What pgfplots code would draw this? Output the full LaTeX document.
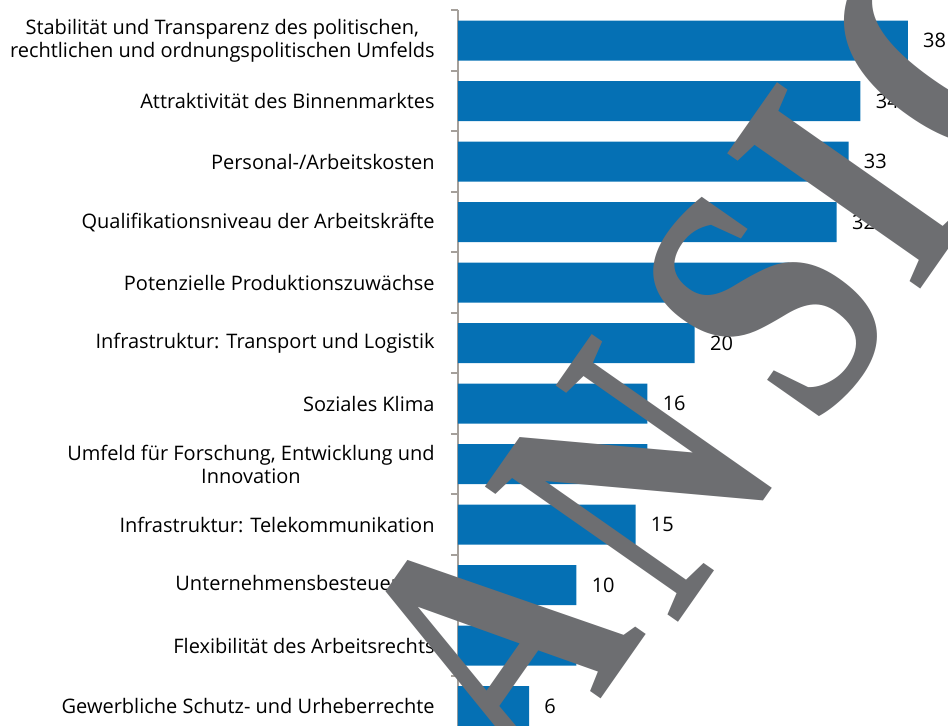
\documentclass[border=0pt]{standalone}
\usepackage{fontspec}
\setmainfont{Open Sans}
\newfontfamily\wmfont{Liberation Serif Bold}
\usepackage{pgfplots}
\pgfplotsset{compat=1.18}
\definecolor{barblue}{RGB}{5,112,180}
\definecolor{axgray}{RGB}{165,160,155}
\definecolor{wmgray}{RGB}{109,110,113}
\begin{document}
\begin{tikzpicture}
\begin{axis}[
  name=ax,
  scale only axis,
  width=245pt, height=357.75pt,
  xbar, bar width=20pt, bar shift=0pt,
  xmin=0, xmax=41.4,
  y dir=reverse,
  ymin=-0.5, ymax=11.33,
  axis x line=none,
  axis y line*=left,
  axis line style={axgray, line width=1pt},
  ytick={0,...,11},
  minor ytick={-0.5,0.5,...,10.5},
  major tick length=0pt,
  minor tick length=3.5pt,
  tick align=outside,
  minor tick style={axgray, line width=1pt},
  yticklabels={
    {Stabilität und Transparenz des politischen,\\rechtlichen und ordnungspolitischen Umfelds},
    {Attraktivität des Binnenmarktes},
    {Personal-/Arbeitskosten},
    {Qualifikationsniveau der Arbeitskräfte},
    {Potenzielle Produktionszuwächse},
    {Infrastruktur: Transport und Logistik},
    {Soziales Klima},
    {Umfeld für Forschung, Entwicklung und\\Innovation},
    {Infrastruktur: Telekommunikation},
    {Unternehmensbesteuerung},
    {Flexibilität des Arbeitsrechts},
    {Gewerbliche Schutz- und Urheberrechte}},
  yticklabel style={font=\fontsize{10}{11.5}\selectfont, align=center, inner sep=0pt, anchor=east, xshift=-11.5pt},
  /pgf/number format/assume math mode=true,
  nodes near coords,
  every node near coord/.append style={font=\fontsize{10}{11.5}\selectfont, black, anchor=west, inner sep=0pt, xshift=7.5pt},
  clip=false,
]
\addplot[fill=barblue, draw=none] coordinates {
  (38,0) (34,1) (33,2) (32,3) (28,4) (20,5) (16,6) (16,7) (15,8) (10,9) (10,10) (6,11)
};
\end{axis}
\begin{scope}[every node/.style={overlay, rotate=55, xscale=0.75, anchor=center, inner sep=0pt, text=wmgray,
  font=\wmfont\fontsize{180}{180}\selectfont}]
\node at ([shift={(18pt,41pt)}]ax.south west) {A};
\node at ([shift={(88.5pt,123.5pt)}]ax.south west) {N};
\node at ([shift={(153.5pt,210.5pt)}]ax.south west) {S};
\node at ([shift={(195.5pt,270pt)}]ax.south west) {I};
\node at ([shift={(249pt,340pt)}]ax.south west) {C};
\end{scope}
\pgfresetboundingbox
\path ([xshift=-229pt]ax.south west) rectangle ([yshift=5.25pt]ax.north east);
\end{tikzpicture}
\end{document}
